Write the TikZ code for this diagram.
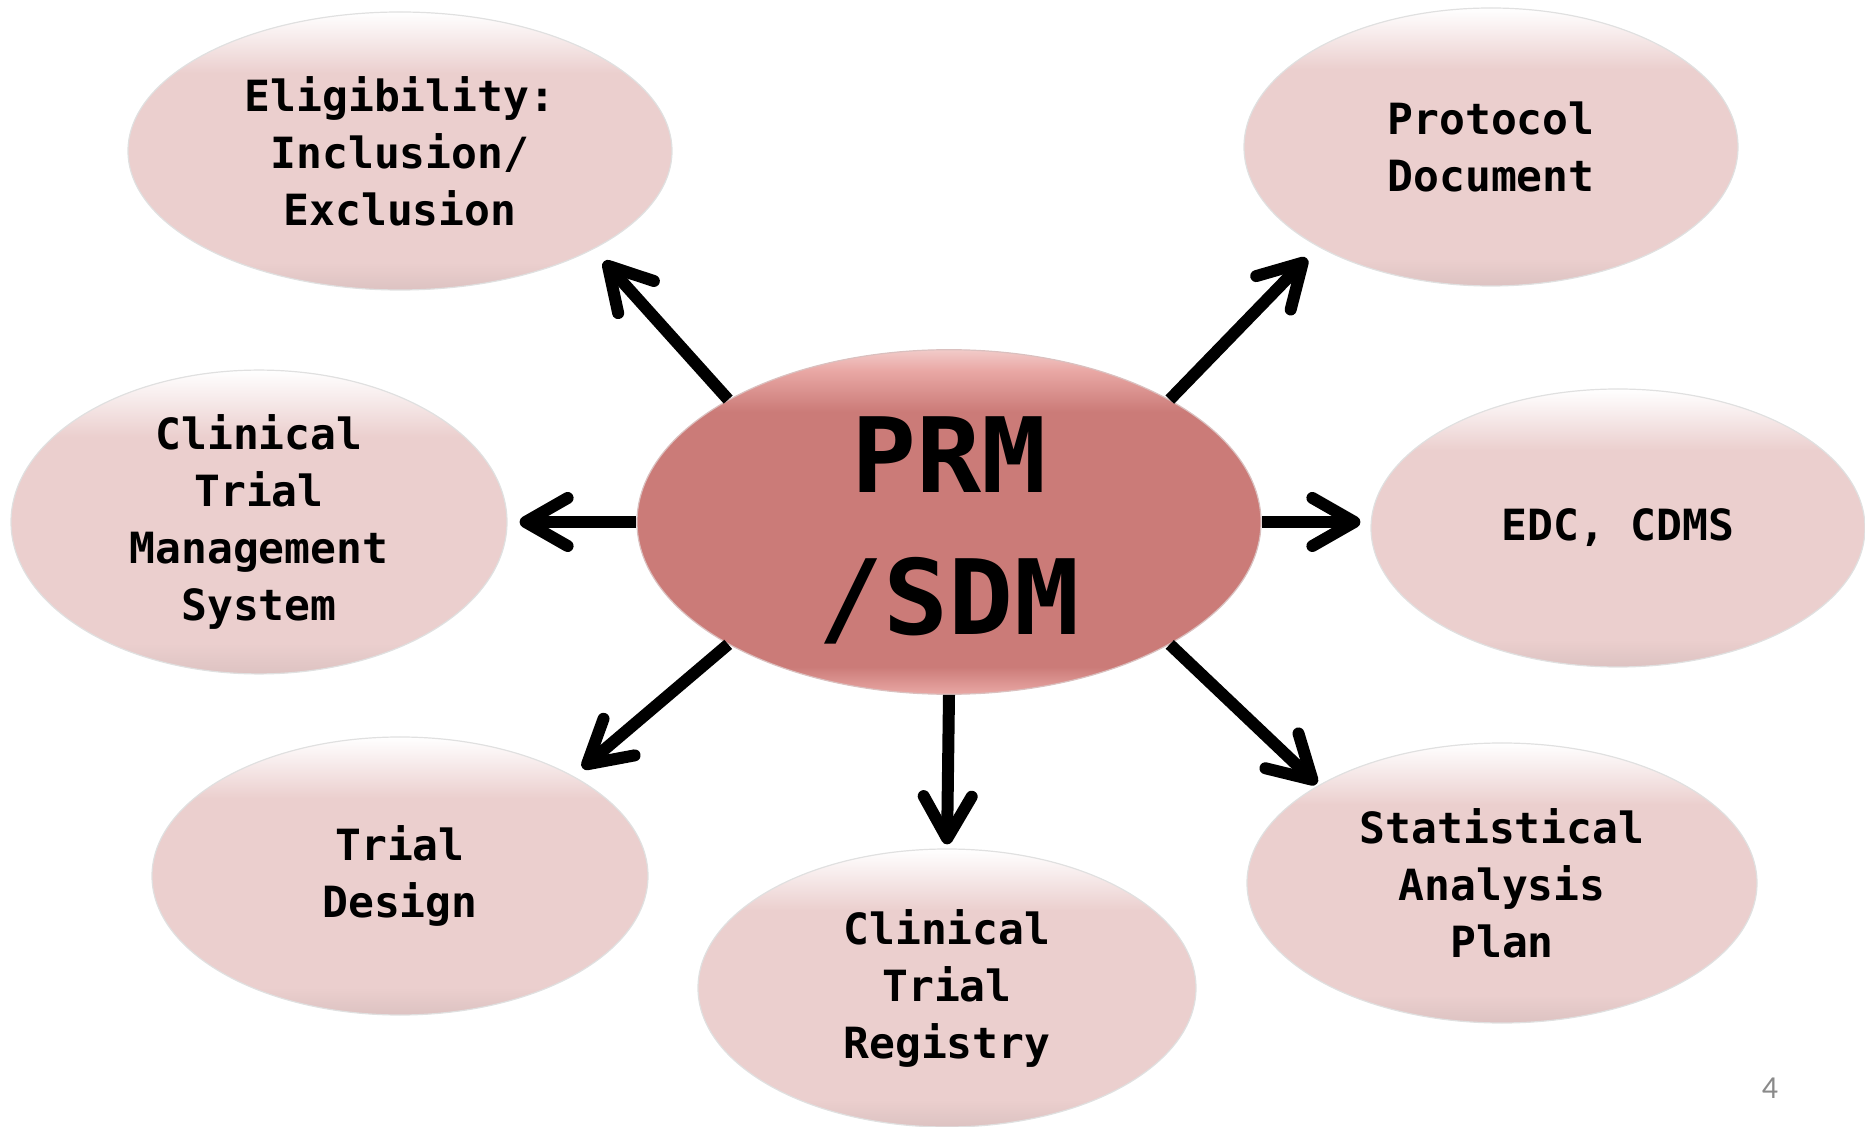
\documentclass[tikz,border=0pt]{standalone}
\usepackage{fontspec}
\usetikzlibrary{shapes.geometric,arrows.meta}
\newfontfamily\labelfont{DejaVu Sans Mono}
\newfontfamily\hubfont[FakeStretch=1.04]{DejaVu Sans Mono}
\newfontfamily\pagefont{Carlito}
\definecolor{bubble}{HTML}{EBCFCE}
\definecolor{bubblerim}{HTML}{F8EEEE}
\definecolor{hub}{HTML}{CB7B78}
\definecolor{hubrim}{HTML}{E9A8A5}
\definecolor{pagegray}{HTML}{8A8A8A}
\pgfdeclareverticalshading{bubbleshade}{100bp}{color(0bp)=(bubble!92!black); color(25bp)=(bubble!94!black); color(30bp)=(bubble); color(64bp)=(bubble); color(71bp)=(bubblerim); color(75bp)=(white); color(100bp)=(white)}
\pgfdeclareverticalshading{hubshade}{100bp}{color(0bp)=(hubrim); color(25bp)=(hubrim); color(29bp)=(hub); color(66bp)=(hub); color(72bp)=(hubrim); color(75bp)=(hubrim!60!white); color(100bp)=(white)}
\begin{document}
\begin{tikzpicture}[x=0.5pt,y=0.5pt,
  bubblenode/.style={ellipse, inner sep=0pt, shading=bubbleshade, draw=black!12, line width=0.6pt,
    minimum width=248pt, minimum height=139pt, align=center,
    font=\labelfont\bfseries\fontsize{21.5}{28.5}\selectfont},
  hubnode/.style={ellipse, inner sep=0pt, shading=hubshade, draw=hub!80!black!40, line width=0.6pt,
    minimum width=312pt, minimum height=171pt, align=center,
    font=\hubfont\bfseries\fontsize{52}{71}\selectfont},
  spoke/.style={line width=6pt, -{Straight Barb[length=21pt,width=24pt,round]}}]
\useasboundingbox (0,0) rectangle (1865,1126);
\node [hubnode] (prm) at (949,604) {\rule{0pt}{46pt}PRM\\/SDM};
\node [bubblenode, minimum width=272pt] (elig) at (400,975) {Eligibility:\\Inclusion/\\Exclusion};
\node [bubblenode, minimum width=247pt] (prot) at (1491,979) {Protocol\\Document};
\node [bubblenode] (ctms) at (259,604) {Clinical\\Trial\\Management\\System};
\node [bubblenode, minimum width=247pt] (edc) at (1618,598) {EDC, CDMS};
\node [bubblenode] (td) at (400,250) {Trial\\Design};
\node [bubblenode, minimum width=249pt] (reg) at (947,138) {Clinical\\Trial\\Registry};
\node [bubblenode, minimum width=255pt, minimum height=140pt] (sap) at (1502,243) {Statistical\\Analysis\\Plan};
\node [text=pagegray, font=\pagefont\fontsize{16}{19}\selectfont] (pnum) at (1770,38) {4};
\draw [spoke, shorten >=8pt] (prm.151) -- (elig.-27);
\draw [spoke, shorten >=8pt] (prm.29) -- (prot.-150);
\draw [spoke, shorten >=6pt] (prm.180) -- (prm.180 -| ctms.east);
\draw [spoke, shorten >=5pt] (prm.east) -- (prm.east -| edc.west);
\draw [spoke, shorten >=6pt] (prm.-151) -- (td.30);
\draw [spoke, shorten >=2pt] (prm.south) -- (reg.north);
\draw [spoke, shorten >=1pt] (prm.-29) -- (sap.152);
\end{tikzpicture}
\end{document}
